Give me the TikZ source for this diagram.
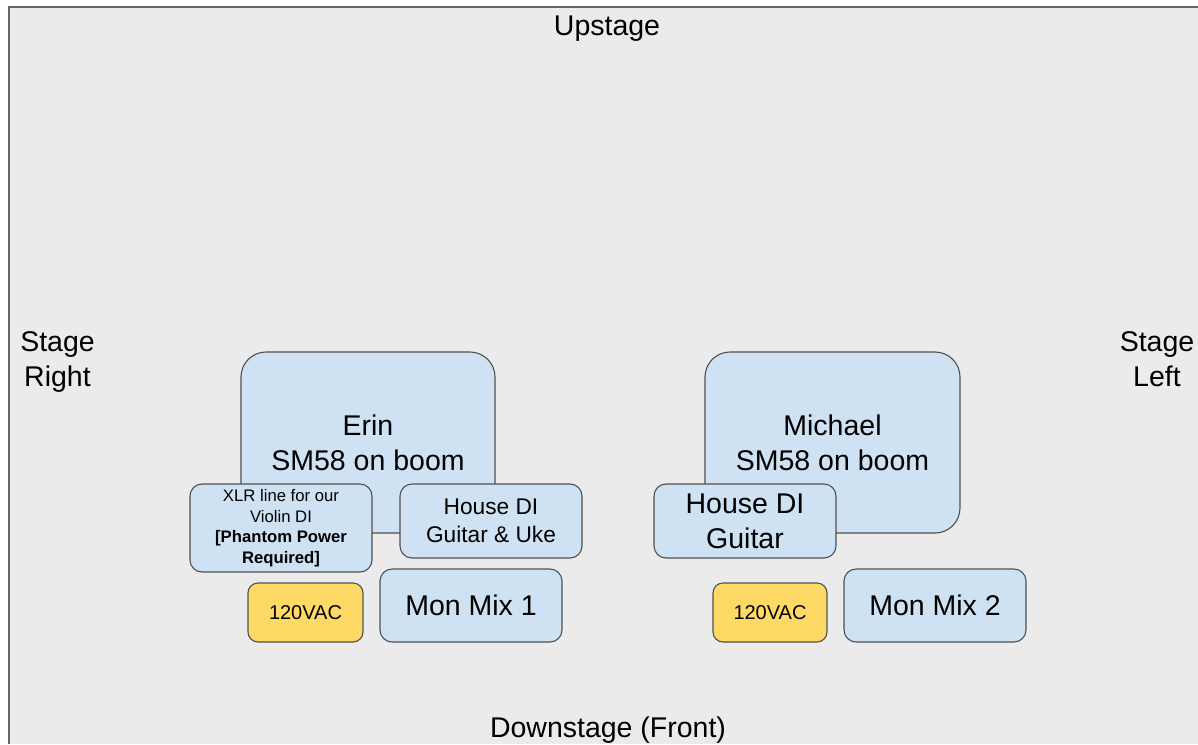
\documentclass[tikz,border=0pt]{standalone}
\usepackage{fontspec}
\setmainfont{Liberation Sans}
\definecolor{bgc}{HTML}{EBEBEB}
\definecolor{boxblue}{HTML}{CFE2F3}
\definecolor{boxyellow}{HTML}{FFD966}
\definecolor{edgec}{HTML}{505050}
\definecolor{framec}{HTML}{666666}
\tikzset{
  bigfont/.style={font=\fontsize{28.5}{35}\selectfont},
  midfont/.style={font=\fontsize{22.7}{28}\selectfont},
  smallfont/.style={font=\fontsize{16.7}{20.5}\selectfont},
  vacfont/.style={font=\fontsize{20}{24}\selectfont},
  gear/.style={draw=edgec, line width=1.1pt, fill=boxblue, inner sep=0pt, align=center, text=black},
  power/.style={draw=edgec, line width=1.1pt, fill=boxyellow, inner sep=0pt, align=center, text=black},
  label/.style={inner sep=0pt, align=center, text=black, bigfont}
}
\begin{document}
\begin{tikzpicture}[x=1pt,y=-1pt]
\useasboundingbox (0,0) rectangle (1198,744);
\fill[white] (0,0) rectangle (1198,744);
\fill[bgc] (9,7) rectangle (1198,744);
\draw[framec, line width=2pt] (9,744) -- (9,7) -- (1198,7);

% labels
\node[label, anchor=base] (up) at (607,35) {Upstage};
\node[label, anchor=base] (down) at (608,737) {Downstage (Front)};
\node[label] (sr) at (57.5,362.5) {Stage\\Right};
\node[label] (sl) at (1157,359.5) {Stage\\Left};

% Erin
\node[gear, rounded corners=25pt, minimum width=254pt, minimum height=181pt, bigfont] (erin) at (368,442.5) {Erin\\SM58 on boom};
\node[gear, rounded corners=12pt, minimum width=182pt, minimum height=88pt, smallfont] (xlr) at (281,528) {XLR line for our\\Violin DI\\\textbf{[Phantom Power}\\\textbf{Required]}};
\node[gear, rounded corners=12pt, minimum width=182pt, minimum height=74pt, midfont] (di1) at (491,521) {House DI\\Guitar \& Uke};
\node[power, rounded corners=10pt, minimum width=115pt, minimum height=59pt, vacfont] (vac1) at (305.5,612.5) {120VAC};
\node[gear, rounded corners=12pt, minimum width=182pt, minimum height=73pt, bigfont] (mon1) at (471,605.5) {Mon Mix 1};

% Michael
\node[gear, rounded corners=25pt, minimum width=255pt, minimum height=181pt, bigfont] (mich) at (832.5,442.5) {Michael\\SM58 on boom};
\node[gear, rounded corners=12pt, minimum width=182pt, minimum height=74pt, bigfont] (di2) at (745,521) {House DI\\Guitar};
\node[power, rounded corners=10pt, minimum width=114pt, minimum height=59pt, vacfont] (vac2) at (770,612.5) {120VAC};
\node[gear, rounded corners=12pt, minimum width=182pt, minimum height=73pt, bigfont] (mon2) at (935,605.5) {Mon Mix 2};
\end{tikzpicture}
\end{document}
